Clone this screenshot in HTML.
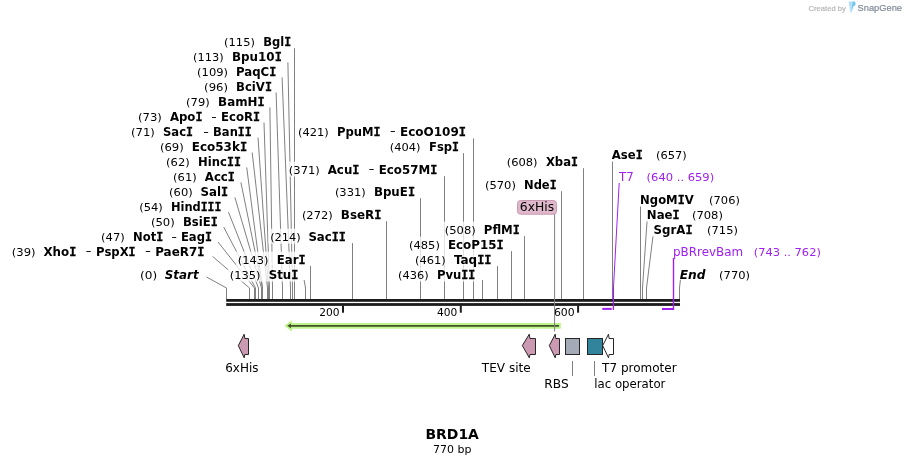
<!DOCTYPE html>
<html><head><meta charset="utf-8"><title>BRD1A</title>
<style>
html,body{margin:0;padding:0;background:#fff;}
svg{display:block;will-change:transform}
text{font-family:"DejaVu Sans","Liberation Sans",sans-serif;fill:#000}
.n{font-size:10.8px}
.d{font-size:10.8px;stroke:#000;stroke-width:.35px}
.b{font-size:12px;font-weight:bold}
.mi{font-family:"DejaVu Sans Mono","Liberation Mono",monospace;font-weight:bold;stroke:#000;stroke-width:.3px}
.bi{font-size:12px;font-weight:bold;font-style:italic}
.p{font-size:11.8px;fill:#a020f0}
.pn{font-size:10.8px;fill:#a020f0}
.f{font-size:11.8px}
.tk{font-size:10.8px}
.ln{fill:none;stroke:#808080;stroke-width:1}
.pl{fill:none;stroke:#a020f0;stroke-width:1.4}
.h{fill:#fff;opacity:.78}
.title{font-size:14px;font-weight:bold}
.sub{font-size:10.8px}
.wm{font-family:"Liberation Sans",sans-serif;font-size:7.3px;fill:#b2b2b2;stroke:#b2b2b2;stroke-width:.15}
.wm2{font-family:"Liberation Sans",sans-serif;font-size:9.9px;fill:#808a98;stroke:#808a98;stroke-width:.2}
</style></head><body>
<svg width="906" height="465" viewBox="0 0 906 465">
<rect width="906" height="465" fill="#fff"/>
<g id="site-lines">
<polyline class="ln" points="294.5,48.2 294.5,299.5"/>
<polyline class="ln" points="287.9,62.4 292.5,288.0 292.5,299.5"/>
<polyline class="ln" points="282.1,77.4 290.5,288.0 290.5,299.5"/>
<polyline class="ln" points="276.1,92.4 282.5,288.0 282.5,299.5"/>
<polyline class="ln" points="269.9,107.4 272.5,288.0 272.5,299.5"/>
<polyline class="ln" points="264.0,122.6 269.5,288.0 269.5,299.5"/>
<polyline class="ln" points="258.0,137.6 268.5,288.0 268.5,299.5"/>
<polyline class="ln" points="252.2,152.5 267.5,288.0 267.5,299.5"/>
<polyline class="ln" points="246.7,167.4 262.5,288.0 262.5,299.5"/>
<polyline class="ln" points="240.9,182.4 262.5,288.0 262.5,299.5"/>
<polyline class="ln" points="234.9,197.4 261.5,288.0 261.5,299.5"/>
<polyline class="ln" points="228.5,212.2 258.5,288.0 258.5,299.5"/>
<polyline class="ln" points="223.7,227.0 255.5,288.0 255.5,299.5"/>
<polyline class="ln" points="218.0,242.0 254.5,288.0 254.5,299.5"/>
<polyline class="ln" points="212.5,256.4 249.5,288.0 249.5,299.5"/>
<polyline class="ln" points="310.5,266.0 310.5,299.5"/>
<polyline class="ln" points="304.1,280.0 305.5,288.0 305.5,299.5"/>
<polyline class="ln" points="352.5,243.1 352.5,299.5"/>
<polyline class="ln" points="386.5,221.2 386.5,299.5"/>
<polyline class="ln" points="420.5,198.2 420.5,299.5"/>
<polyline class="ln" points="444.5,176.2 444.5,299.5"/>
<polyline class="ln" points="463.5,153.1 463.5,299.5"/>
<polyline class="ln" points="473.5,138.4 473.5,299.5"/>
<polyline class="ln" points="482.5,280.0 482.5,299.5"/>
<polyline class="ln" points="497.5,266.1 497.5,299.5"/>
<polyline class="ln" points="511.5,251.1 511.5,299.5"/>
<polyline class="ln" points="524.5,236.1 524.5,299.5"/>
<polyline class="ln" points="561.5,191.2 561.5,299.5"/>
<polyline class="ln" points="583.5,168.2 583.5,299.5"/>
<polyline class="ln" points="612.5,161.2 612.5,299.5"/>
<polyline class="ln" points="640.5,206.1 640.5,299.5"/>
<polyline class="ln" points="647.1,220.4 642.5,288.0 642.5,299.5"/>
<polyline class="ln" points="653.1,235.4 646.5,288.0 646.5,299.5"/>
<polyline class="ln" points="206.5,277 226.5,288.0 226.5,299.5"/>
<polyline class="ln" points="680.4,279.8 679.5,288.0 679.5,299.5"/>
</g>
<g id="halos">
<rect x="222.3" y="33.8" width="70.6" height="15" class="h"/>
<rect x="191.3" y="48.8" width="92.3" height="15" class="h"/>
<rect x="195.3" y="63.8" width="82.8" height="15" class="h"/>
<rect x="202.3" y="78.6" width="71.4" height="15" class="h"/>
<rect x="184.3" y="93.7" width="82.1" height="15" class="h"/>
<rect x="136.2" y="108.7" width="125.7" height="15" class="h"/>
<rect x="129.2" y="123.7" width="124.3" height="15" class="h"/>
<rect x="158.1" y="138.7" width="90.8" height="15" class="h"/>
<rect x="164.3" y="153.7" width="78.4" height="15" class="h"/>
<rect x="171.3" y="168.7" width="65.4" height="15" class="h"/>
<rect x="167.3" y="183.7" width="62.7" height="15" class="h"/>
<rect x="137.4" y="198.7" width="85.8" height="15" class="h"/>
<rect x="149.1" y="213.7" width="70.4" height="15" class="h"/>
<rect x="99.3" y="228.7" width="114.5" height="15" class="h"/>
<rect x="10.0" y="243.6" width="196.3" height="15" class="h"/>
<rect x="236.0" y="251.6" width="71.3" height="15" class="h"/>
<rect x="228.0" y="266.6" width="72.1" height="15" class="h"/>
<rect x="268.4" y="228.7" width="79.3" height="15" class="h"/>
<rect x="300.1" y="206.8" width="83.1" height="15" class="h"/>
<rect x="333.1" y="183.8" width="83.7" height="15" class="h"/>
<rect x="287.0" y="161.6" width="152.1" height="15" class="h"/>
<rect x="388.0" y="138.6" width="72.8" height="15" class="h"/>
<rect x="296.2" y="123.6" width="171.6" height="15" class="h"/>
<rect x="396.3" y="266.6" width="80.8" height="15" class="h"/>
<rect x="413.2" y="251.6" width="80.1" height="15" class="h"/>
<rect x="407.2" y="236.6" width="98.3" height="15" class="h"/>
<rect x="442.9" y="221.6" width="78.8" height="15" class="h"/>
<rect x="483.1" y="176.8" width="75.3" height="15" class="h"/>
<rect x="504.9" y="153.6" width="74.9" height="15" class="h"/>
<rect x="610.0" y="146.6" width="78.6" height="15" class="h"/>
<rect x="638.3" y="191.6" width="103.4" height="15" class="h"/>
<rect x="645.0" y="206.6" width="79.7" height="15" class="h"/>
<rect x="651.8" y="221.6" width="87.9" height="15" class="h"/>
</g>
<g id="backbone" fill="#1c1c1c">
<rect x="226.2" y="299" width="453.8" height="2.8"/>
<rect x="226.2" y="303.1" width="453.8" height="2.8"/>
<rect x="342.0" y="305.5" width="2" height="7.2"/>
<rect x="459.8" y="305.5" width="2" height="7.2"/>
<rect x="577.1" y="305.5" width="2" height="7.2"/>
</g>
<g id="labels">
<text x="224.10" y="46.20" class="n" textLength="30.80" lengthAdjust="spacingAndGlyphs">(115)</text>
<text x="263.20" y="46.20" class="b" textLength="27.92" lengthAdjust="spacingAndGlyphs">Bgl<tspan class="mi">I</tspan></text>
<text x="193.10" y="61.20" class="n" textLength="30.60" lengthAdjust="spacingAndGlyphs">(113)</text>
<text x="232.00" y="61.20" class="b" textLength="49.82" lengthAdjust="spacingAndGlyphs">Bpu10<tspan class="mi">I</tspan></text>
<text x="197.10" y="76.20" class="n" textLength="30.90" lengthAdjust="spacingAndGlyphs">(109)</text>
<text x="236.00" y="76.20" class="b" textLength="40.32" lengthAdjust="spacingAndGlyphs">PaqC<tspan class="mi">I</tspan></text>
<text x="204.10" y="91.00" class="n" textLength="23.90" lengthAdjust="spacingAndGlyphs">(96)</text>
<text x="236.00" y="91.00" class="b" textLength="35.92" lengthAdjust="spacingAndGlyphs">BciV<tspan class="mi">I</tspan></text>
<text x="186.10" y="106.10" class="n" textLength="23.60" lengthAdjust="spacingAndGlyphs">(79)</text>
<text x="218.10" y="106.10" class="b" textLength="46.52" lengthAdjust="spacingAndGlyphs">BamH<tspan class="mi">I</tspan></text>
<text x="138.00" y="121.10" class="n" textLength="23.90" lengthAdjust="spacingAndGlyphs">(73)</text>
<text x="169.90" y="121.10" class="b" textLength="32.62" lengthAdjust="spacingAndGlyphs">Apo<tspan class="mi">I</tspan></text>
<text x="211.60" y="119.50" class="d" textLength="4.91" lengthAdjust="spacingAndGlyphs">-</text>
<text x="221.10" y="121.10" class="b" textLength="39.02" lengthAdjust="spacingAndGlyphs">EcoR<tspan class="mi">I</tspan></text>
<text x="131.00" y="136.10" class="n" textLength="23.90" lengthAdjust="spacingAndGlyphs">(71)</text>
<text x="163.00" y="136.10" class="b" textLength="30.02" lengthAdjust="spacingAndGlyphs">Sac<tspan class="mi">I</tspan></text>
<text x="203.60" y="134.50" class="d" textLength="5.11" lengthAdjust="spacingAndGlyphs">-</text>
<text x="213.10" y="136.10" class="b" textLength="38.62" lengthAdjust="spacingAndGlyphs">Ban<tspan class="mi">II</tspan></text>
<text x="159.90" y="151.10" class="n" textLength="23.90" lengthAdjust="spacingAndGlyphs">(69)</text>
<text x="191.80" y="151.10" class="b" textLength="55.32" lengthAdjust="spacingAndGlyphs">Eco53k<tspan class="mi">I</tspan></text>
<text x="166.10" y="166.10" class="n" textLength="23.60" lengthAdjust="spacingAndGlyphs">(62)</text>
<text x="198.10" y="166.10" class="b" textLength="42.82" lengthAdjust="spacingAndGlyphs">Hinc<tspan class="mi">II</tspan></text>
<text x="173.10" y="181.10" class="n" textLength="23.60" lengthAdjust="spacingAndGlyphs">(61)</text>
<text x="204.80" y="181.10" class="b" textLength="30.12" lengthAdjust="spacingAndGlyphs">Acc<tspan class="mi">I</tspan></text>
<text x="169.10" y="196.10" class="n" textLength="23.60" lengthAdjust="spacingAndGlyphs">(60)</text>
<text x="200.60" y="196.10" class="b" textLength="27.62" lengthAdjust="spacingAndGlyphs">Sal<tspan class="mi">I</tspan></text>
<text x="139.20" y="211.10" class="n" textLength="23.60" lengthAdjust="spacingAndGlyphs">(54)</text>
<text x="170.90" y="211.10" class="b" textLength="50.52" lengthAdjust="spacingAndGlyphs">Hind<tspan class="mi">III</tspan></text>
<text x="150.90" y="226.10" class="n" textLength="23.90" lengthAdjust="spacingAndGlyphs">(50)</text>
<text x="182.90" y="226.10" class="b" textLength="34.82" lengthAdjust="spacingAndGlyphs">BsiE<tspan class="mi">I</tspan></text>
<text x="101.10" y="241.10" class="n" textLength="23.70" lengthAdjust="spacingAndGlyphs">(47)</text>
<text x="133.10" y="241.10" class="b" textLength="30.12" lengthAdjust="spacingAndGlyphs">Not<tspan class="mi">I</tspan></text>
<text x="171.70" y="239.50" class="d" textLength="4.91" lengthAdjust="spacingAndGlyphs">-</text>
<text x="180.90" y="241.10" class="b" textLength="31.12" lengthAdjust="spacingAndGlyphs">Eag<tspan class="mi">I</tspan></text>
<text x="11.80" y="256.00" class="n" textLength="23.80" lengthAdjust="spacingAndGlyphs">(39)</text>
<text x="43.50" y="256.00" class="b" textLength="32.82" lengthAdjust="spacingAndGlyphs">Xho<tspan class="mi">I</tspan></text>
<text x="86.10" y="254.40" class="d" textLength="5.11" lengthAdjust="spacingAndGlyphs">-</text>
<text x="96.10" y="256.00" class="b" textLength="39.52" lengthAdjust="spacingAndGlyphs">PspX<tspan class="mi">I</tspan></text>
<text x="145.20" y="254.40" class="d" textLength="5.41" lengthAdjust="spacingAndGlyphs">-</text>
<text x="155.20" y="256.00" class="b" textLength="49.32" lengthAdjust="spacingAndGlyphs">PaeR7<tspan class="mi">I</tspan></text>
<text x="237.80" y="264.00" class="n" textLength="30.80" lengthAdjust="spacingAndGlyphs">(143)</text>
<text x="276.70" y="264.00" class="b" textLength="28.82" lengthAdjust="spacingAndGlyphs">Ear<tspan class="mi">I</tspan></text>
<text x="229.80" y="279.00" class="n" textLength="30.80" lengthAdjust="spacingAndGlyphs">(135)</text>
<text x="268.70" y="279.00" class="b" textLength="29.62" lengthAdjust="spacingAndGlyphs">Stu<tspan class="mi">I</tspan></text>
<text x="270.20" y="241.10" class="n" textLength="30.60" lengthAdjust="spacingAndGlyphs">(214)</text>
<text x="308.40" y="241.10" class="b" textLength="37.52" lengthAdjust="spacingAndGlyphs">Sac<tspan class="mi">II</tspan></text>
<text x="301.90" y="219.20" class="n" textLength="30.80" lengthAdjust="spacingAndGlyphs">(272)</text>
<text x="340.80" y="219.20" class="b" textLength="40.62" lengthAdjust="spacingAndGlyphs">BseR<tspan class="mi">I</tspan></text>
<text x="334.90" y="196.20" class="n" textLength="30.90" lengthAdjust="spacingAndGlyphs">(331)</text>
<text x="373.90" y="196.20" class="b" textLength="41.12" lengthAdjust="spacingAndGlyphs">BpuE<tspan class="mi">I</tspan></text>
<text x="288.80" y="174.00" class="n" textLength="31.10" lengthAdjust="spacingAndGlyphs">(371)</text>
<text x="327.70" y="174.00" class="b" textLength="31.82" lengthAdjust="spacingAndGlyphs">Acu<tspan class="mi">I</tspan></text>
<text x="369.10" y="172.40" class="d" textLength="5.11" lengthAdjust="spacingAndGlyphs">-</text>
<text x="378.80" y="174.00" class="b" textLength="58.52" lengthAdjust="spacingAndGlyphs">Eco57M<tspan class="mi">I</tspan></text>
<text x="389.80" y="151.00" class="n" textLength="30.80" lengthAdjust="spacingAndGlyphs">(404)</text>
<text x="429.00" y="151.00" class="b" textLength="30.02" lengthAdjust="spacingAndGlyphs">Fsp<tspan class="mi">I</tspan></text>
<text x="298.00" y="136.00" class="n" textLength="30.80" lengthAdjust="spacingAndGlyphs">(421)</text>
<text x="336.90" y="136.00" class="b" textLength="43.62" lengthAdjust="spacingAndGlyphs">PpuM<tspan class="mi">I</tspan></text>
<text x="390.30" y="134.40" class="d" textLength="5.11" lengthAdjust="spacingAndGlyphs">-</text>
<text x="400.00" y="136.00" class="b" textLength="66.02" lengthAdjust="spacingAndGlyphs">EcoO109<tspan class="mi">I</tspan></text>
<text x="398.10" y="279.00" class="n" textLength="30.70" lengthAdjust="spacingAndGlyphs">(436)</text>
<text x="436.90" y="279.00" class="b" textLength="38.42" lengthAdjust="spacingAndGlyphs">Pvu<tspan class="mi">II</tspan></text>
<text x="415.00" y="264.00" class="n" textLength="30.80" lengthAdjust="spacingAndGlyphs">(461)</text>
<text x="453.90" y="264.00" class="b" textLength="37.62" lengthAdjust="spacingAndGlyphs">Taq<tspan class="mi">II</tspan></text>
<text x="409.00" y="249.00" class="n" textLength="30.90" lengthAdjust="spacingAndGlyphs">(485)</text>
<text x="447.90" y="249.00" class="b" textLength="55.82" lengthAdjust="spacingAndGlyphs">EcoP15<tspan class="mi">I</tspan></text>
<text x="444.70" y="234.00" class="n" textLength="31.10" lengthAdjust="spacingAndGlyphs">(508)</text>
<text x="483.80" y="234.00" class="b" textLength="36.12" lengthAdjust="spacingAndGlyphs">PflM<tspan class="mi">I</tspan></text>
<text x="484.90" y="189.20" class="n" textLength="31.00" lengthAdjust="spacingAndGlyphs">(570)</text>
<text x="524.00" y="189.20" class="b" textLength="32.62" lengthAdjust="spacingAndGlyphs">Nde<tspan class="mi">I</tspan></text>
<text x="506.70" y="166.00" class="n" textLength="30.90" lengthAdjust="spacingAndGlyphs">(608)</text>
<text x="545.90" y="166.00" class="b" textLength="32.12" lengthAdjust="spacingAndGlyphs">Xba<tspan class="mi">I</tspan></text>
<text x="611.80" y="159.00" class="b" textLength="31.02" lengthAdjust="spacingAndGlyphs">Ase<tspan class="mi">I</tspan></text>
<text x="656.00" y="159.00" class="n" textLength="30.80" lengthAdjust="spacingAndGlyphs">(657)</text>
<text x="640.10" y="204.00" class="b" textLength="53.59" lengthAdjust="spacingAndGlyphs">NgoM<tspan class="mi">I</tspan>V</text>
<text x="709.10" y="204.00" class="n" textLength="30.80" lengthAdjust="spacingAndGlyphs">(706)</text>
<text x="646.80" y="219.00" class="b" textLength="32.82" lengthAdjust="spacingAndGlyphs">Nae<tspan class="mi">I</tspan></text>
<text x="691.90" y="219.00" class="n" textLength="31.00" lengthAdjust="spacingAndGlyphs">(708)</text>
<text x="653.60" y="234.00" class="b" textLength="38.92" lengthAdjust="spacingAndGlyphs">SgrA<tspan class="mi">I</tspan></text>
<text x="707.10" y="234.00" class="n" textLength="30.80" lengthAdjust="spacingAndGlyphs">(715)</text>
<text x="140.10" y="279.00" class="n" textLength="17.10" lengthAdjust="spacingAndGlyphs">(0)</text>
<text x="164.70" y="279.00" class="bi" textLength="33.92" lengthAdjust="spacingAndGlyphs">Start</text>
<text x="679.70" y="279.00" class="bi" textLength="25.79" lengthAdjust="spacingAndGlyphs">End</text>
<text x="719.10" y="279.00" class="n" textLength="30.90" lengthAdjust="spacingAndGlyphs">(770)</text>
<text x="319.20" y="316.00" class="tk" textLength="20.31" lengthAdjust="spacingAndGlyphs">200</text>
<text x="437.00" y="316.00" class="tk" textLength="20.31" lengthAdjust="spacingAndGlyphs">400</text>
<text x="553.90" y="316.00" class="tk" textLength="20.71" lengthAdjust="spacingAndGlyphs">600</text>
</g>
<g id="primers">
<polyline class="pl" style="stroke-width:1" points="619.2,183 613.4,289.0"/>
<polyline class="pl" style="stroke-width:1.3" points="613.4,288.0 613.4,310"/>
<rect x="602.3" y="307.9" width="9.4" height="2" fill="#a020f0"/>
<polyline class="pl" points="673.5,258 673.5,310"/>
<rect x="662" y="308" width="11.5" height="2" fill="#a020f0"/>
<text x="618.96" y="181.20" class="p" textLength="14.66" lengthAdjust="spacingAndGlyphs">T7</text>
<text x="646.60" y="181.20" class="pn" textLength="67.60" lengthAdjust="spacingAndGlyphs">(640 .. 659)</text>
<text x="673.00" y="256.00" class="p" textLength="70.19" lengthAdjust="spacingAndGlyphs">pBRrevBam</text>
<text x="753.70" y="256.00" class="pn" textLength="67.20" lengthAdjust="spacingAndGlyphs">(743 .. 762)</text>
</g>
<g id="his-box">
<rect x="517.5" y="200.5" width="39" height="13.7" rx="3" ry="3" fill="#dfb9cb" stroke="#cb98b1" stroke-width="1"/>
<text x="519.80" y="211.20" class="f" textLength="34.31" lengthAdjust="spacingAndGlyphs">6xHis</text>
</g>
<g id="orf">
<polygon points="284.4,325.8 291.9,320.2 291.9,323.1 560.8,323.1 560.8,328.8 291.9,328.8 291.9,331.7" fill="#bcf58a"/>
<polygon points="287.2,325.85 291,323.4 291,325.0 559,325.0 559,326.7 291,326.7 291,328.3" fill="#42512c"/>
</g>
<line x1="554.6" y1="214" x2="554.6" y2="331.5" stroke="#808080" stroke-width="1"/>
<g id="features" stroke="#262626" stroke-width="1">
<polygon points="238.3,345.6 244.2,334.2 244.8,338.5 248.5,338.5 248.5,354.5 244.8,354.5 244.2,357.8" fill="#cc99b2"/>
<polygon points="522.3,345.6 529.3,334.2 529.9,338.5 535.5,338.5 535.5,354.5 529.9,354.5 529.3,357.8" fill="#cc99b2"/>
<polygon points="549.3,345.6 555.2,334.2 555.8,338.5 559.5,338.5 559.5,354.5 555.8,354.5 555.2,357.8" fill="#cc99b2"/>
<rect x="565.5" y="338.5" width="14" height="16" fill="#a5abb6"/>
<rect x="587.5" y="338.5" width="15" height="16" fill="#31849b"/>
<polygon points="602.7,345.6 608.5,334.2 609.1,338.5 613.5,338.5 613.5,354.5 609.1,354.5 608.5,357.8" fill="#ffffff"/>
</g>
<line x1="572.5" y1="361" x2="572.5" y2="376" stroke="#808080"/>
<line x1="594.5" y1="361" x2="594.5" y2="376" stroke="#808080"/>
<text x="225.20" y="372.00" class="f" textLength="33.31" lengthAdjust="spacingAndGlyphs">6xHis</text>
<text x="481.86" y="372.00" class="f" textLength="48.84" lengthAdjust="spacingAndGlyphs">TEV site</text>
<text x="544.30" y="388.00" class="f" textLength="24.40" lengthAdjust="spacingAndGlyphs">RBS</text>
<text x="602.11" y="372.00" class="f" textLength="74.54" lengthAdjust="spacingAndGlyphs">T7 promoter</text>
<text x="594.30" y="388.00" class="f" textLength="71.11" lengthAdjust="spacingAndGlyphs">lac operator</text>
<text x="425.50" y="438.90" class="title" textLength="53.38" lengthAdjust="spacingAndGlyphs">BRD1A</text>
<text x="433.10" y="452.90" class="sub" textLength="38.40" lengthAdjust="spacingAndGlyphs">770 bp</text>
<g id="wm">
<text x="808.6" y="10.6" class="wm" textLength="37.2" lengthAdjust="spacingAndGlyphs">Created by</text>
<path d="M848.6,1.5 L852.4,1.5 L851.7,12 Q850.9,12.8 850.2,12 Z" fill="#b3e0f8"/>
<path d="M852.4,1.5 L854.6,1.5 Q856,2.6 855.5,4.6 Q854.9,6.1 853.3,6.4 L851.7,12 Z" fill="#72c6f2"/>
<text x="857.6" y="11.1" class="wm2" textLength="44.4" lengthAdjust="spacingAndGlyphs">SnapGene</text>
</g>
</svg></body></html>
